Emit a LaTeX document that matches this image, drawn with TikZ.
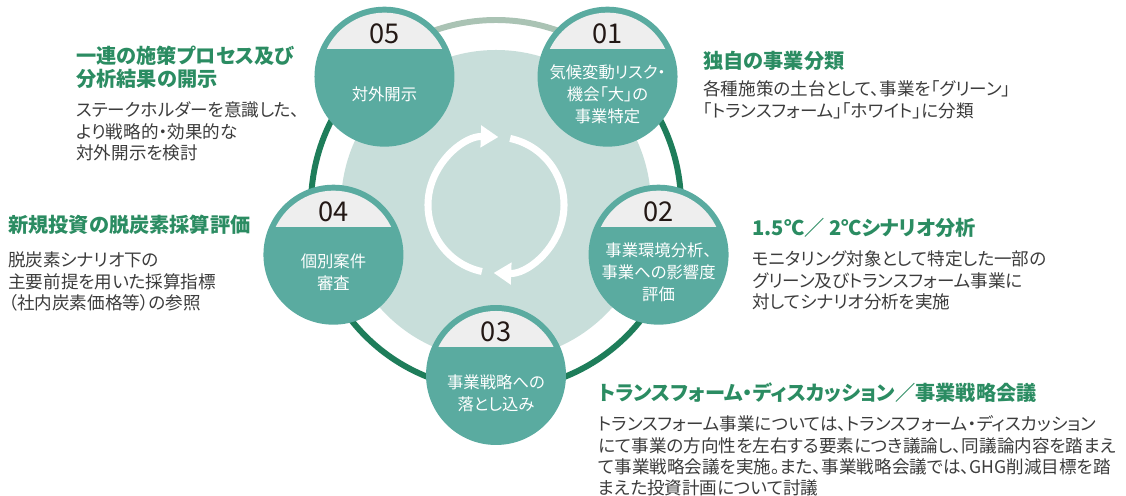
\documentclass[tikz,border=0pt]{standalone}
\usepackage{fontspec}
\setmainfont[RawFeature = +palt]{Noto Sans CJK JP}
\usetikzlibrary{arrows.meta}
\definecolor{stepteal}{HTML}{5AABA0}
\definecolor{hubfill}{HTML}{C8DEDA}
\definecolor{capgray}{HTML}{EEEEEE}
\definecolor{ringgreen}{HTML}{1E7D5A}
\definecolor{ringgray}{HTML}{AAC3B4}
\definecolor{headgreen}{HTML}{2B8C62}
\definecolor{bodygray}{HTML}{3C3C3C}
\definecolor{numblack}{HTML}{231815}
\tikzset{
	stepdisk/.style = {circle, fill = stepteal, minimum size = 2.8cm, inner sep = 0pt},
	stepnum/.style = {text = numblack, inner sep = 0pt, font = \fontsize{15.5}{16}\selectfont},
	steptext/.style = {text = white, inner sep = 0pt, align = center, font = \fontsize{9.3}{12.5}\selectfont},
	headtext/.style = {anchor = north west, inner sep = 0pt, align = left, text = headgreen, font = \bfseries\fontsize{11.5}{12.8}\selectfont},
	bodytext/.style = {anchor = north west, inner sep = 0pt, align = left, text = bodygray, font = \fontsize{10}{12.2}\selectfont},
	cyclearrow/.style = {white, line width = 4pt, -{Triangle[length = 10pt, width = 12pt]}}
}

\begin{document}
\begin{tikzpicture}[x = 0.02cm, y = 0.02cm]
		\useasboundingbox (0, 0) rectangle (1126, 496);
		\begin{scope}[shift = {(496, 291)}]
			\fill[hubfill] (0, 0) circle[radius = 155];
			\draw[ringgray, line width = 3.4pt] (50:185) arc[start angle = 50, end angle = 130, radius = 185];
			\draw[ringgreen, line width = 3.4pt] (130:185) arc[start angle = 130, end angle = 410, radius = 185];
			\draw[cyclearrow] (258:68) arc[start angle = 258, end angle = 88, radius = 68];
			\draw[cyclearrow] (78:68) arc[start angle = 78, end angle = -92, radius = 68];
			\foreach \ang/\num/\txt in {49/01/{気候変動リスク・\\機会「大」の\\事業特定}, -17/02/{事業環境分析、\\事業への影響度\\評価}, -90/03/{事業戦略への\\落とし込み}, 197/04/{個別案件\\審査}, 131/05/{対外開示}}
			{
				\node[stepdisk] (step\num) at (\ang:170) {};
				\begin{scope}[shift = {(\ang:170)}]
					\clip (0, 0) circle[radius = 64];
					\fill[capgray] (-70, 28) rectangle (70, 70);
				\end{scope}
				\node[stepnum] (num\num) at ([yshift = 24.5pt]step\num.center) {\num};
				\node[steptext] (txt\num) at ([yshift = -10.2pt]step\num.center) {\txt};
			}
		\end{scope}
		% side notes
		\node[headtext] (ttl01) at (703, 445) {独自の事業分類};
		\node[bodytext] (body01) at (703, 415.5) {各種施策の土台として、事業を「グリーン」\\「トランスフォーム」「ホワイト」に分類};
		\node[headtext] (ttl02) at (752, 278) {1.5℃／ 2℃シナリオ分析};
		\node[bodytext] (body02) at (752, 245.5) {モニタリング対象として特定した一部の\\グリーン及びトランスフォーム事業に\\対してシナリオ分析を実施};
		\node[headtext] (ttl03) at (598, 114) {トランスフォーム・ディスカッション／事業戦略会議};
		\node[bodytext, font = \fontsize{10}{12.1}\selectfont] (body03) at (598, 80.5) {トランスフォーム事業については、トランスフォーム・ディスカッション\\にて事業の方向性を左右する要素につき議論し、同議論内容を踏まえ\\て事業戦略会議を実施。また、事業戦略会議では、GHG削減目標を踏\\まえた投資計画について討議};
		\node[headtext] (ttl04) at (8, 281) {新規投資の脱炭素採算評価};
		\node[bodytext] (body04) at (8, 244.5) {脱炭素シナリオ下の\\主要前提を用いた採算指標\\（社内炭素価格等）の参照};
		\node[headtext] (ttl05) at (76, 450) {一連の施策プロセス及び\\分析結果の開示};
		\node[bodytext] (body05) at (76, 394.5) {ステークホルダーを意識した、\\より戦略的・効果的な\\対外開示を検討};
	\end{tikzpicture}
\end{document}
